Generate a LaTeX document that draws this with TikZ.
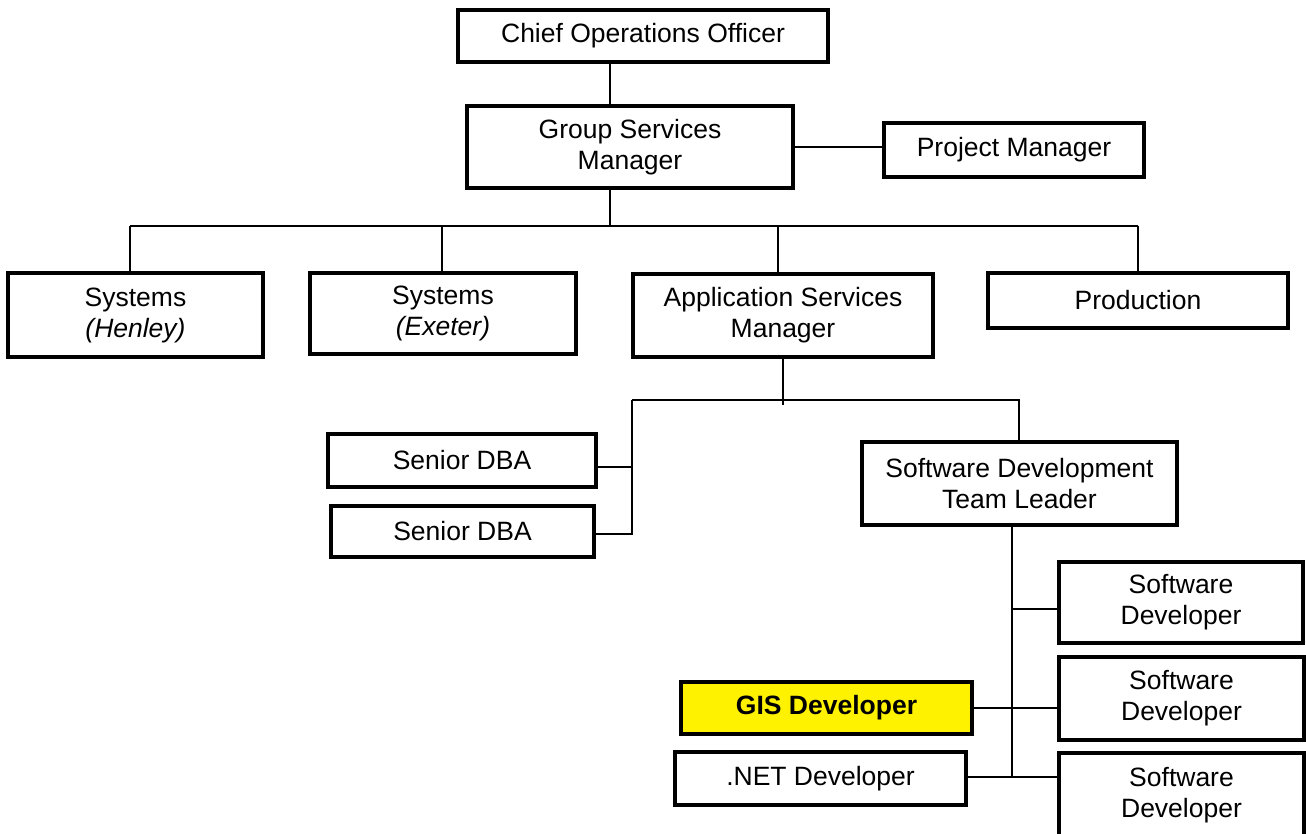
\documentclass[tikz,border=0pt]{standalone}
\usepackage{fontspec}
\setmainfont{Liberation Sans}
\usepackage{tikz}
\usetikzlibrary{positioning}

\begin{document}
\begin{tikzpicture}[x = 1pt, y = -1pt,
  style={font=\fontsize{26.5}{31}\selectfont},
  orgbox/.style={draw, line width=3.5pt, align=center, inner sep=0pt},
  link/.style={line width=1.4pt}]
\useasboundingbox (0,0) rectangle (1306,834);
% Top of the chart
\node[orgbox, minimum width=370, minimum height=52] (coo) at (643, 36) {Chief Operations Officer};
\node[orgbox, minimum width=326, minimum height=82] (gsm) at (630, 147) {Group Services\\Manager};
\node[orgbox, minimum width=260, minimum height=54] (pm) at (1014, 150) {Project Manager};
% Second row
\node[orgbox, minimum width=255, minimum height=84] (henley) at (135.5, 315) {Systems\\\textit{(Henley)}};
\node[orgbox, minimum width=266, minimum height=81] (exeter) at (443, 313.5) {Systems\\\textit{(Exeter)}};
\node[orgbox, minimum width=300, minimum height=83] (asm) at (783, 315.5) {Application Services\\Manager};
\node[orgbox, minimum width=300, minimum height=55] (prod) at (1138, 300.5) {Production};
% Application services
\node[orgbox, minimum width=268, minimum height=53] (dba1) at (462, 460.5) {Senior DBA};
\node[orgbox, minimum width=263, minimum height=51] (dba2) at (462.5, 531.5) {Senior DBA};
\node[orgbox, minimum width=315, minimum height=83] (sdtl) at (1019.5, 483.5) {Software Development\\Team Leader};
% Development team
\node[orgbox, minimum width=244, minimum height=81] (sd1) at (1181, 602.5) {Software\\Developer};
\node[orgbox, minimum width=245, minimum height=83] (sd2) at (1181.5, 698.5) {Software\\Developer};
\node[orgbox, minimum width=245, minimum height=85] (sd3) at (1181.5, 795.5) {Software\\Developer};
\node[orgbox, fill=yellow, minimum width=291, minimum height=52, font=\fontsize{26.5}{31}\selectfont\bfseries] (gis) at (826.5, 708) {GIS Developer};
\node[orgbox, minimum width=291, minimum height=53] (net) at (820.5, 778.5) {.NET Developer};
% Junctions
\coordinate (topbus) at (610, 226);
\coordinate (busleft) at (130, 226);
\coordinate (busright) at (1138, 226);
\coordinate (asmbus) at (783, 400);
\coordinate (dbatop) at (632, 400);
\coordinate (dbamid) at (632, 467);
\coordinate (dbabot) at (632, 534);
\coordinate (sdtltop) at (1019, 400);
\coordinate (devspine) at (1012, 777);
% Connectors
\draw[link] (coo.south -| topbus) -- (gsm.north -| topbus);
\draw[link] (gsm.south -| topbus) -- (topbus);
\draw[link] (gsm.east) -- (gsm.east -| pm.west);
\draw[link] (busleft) -- (busright);
\draw[link] (busleft) -- (henley.north -| busleft);
\draw[link] (442, 226) -- (exeter.north -| 442, 226);
\draw[link] (778, 226) -- (asm.north -| 778, 226);
\draw[link] (busright) -- (prod.north -| busright);
\draw[link] (asm.south -| asmbus) -- ([yshift=-5pt]asmbus);
\draw[link] (dbatop) -- (sdtltop) -- (sdtl.north -| sdtltop);
\draw[link] (dbatop) -- (dbabot) -- (dbabot -| dba2.east);
\draw[link] (dbamid -| dba1.east) -- (dbamid);
\draw[link] (sdtl.south -| devspine) -- (devspine);
\draw[link] (devspine |- 0, 609) -- (sd1.west |- 0, 609);
\draw[link] (gis.east) -- (gis.east -| sd2.west);
\draw[link] (net.east |- devspine) -- (sd3.west |- devspine);
\end{tikzpicture}
\end{document}
